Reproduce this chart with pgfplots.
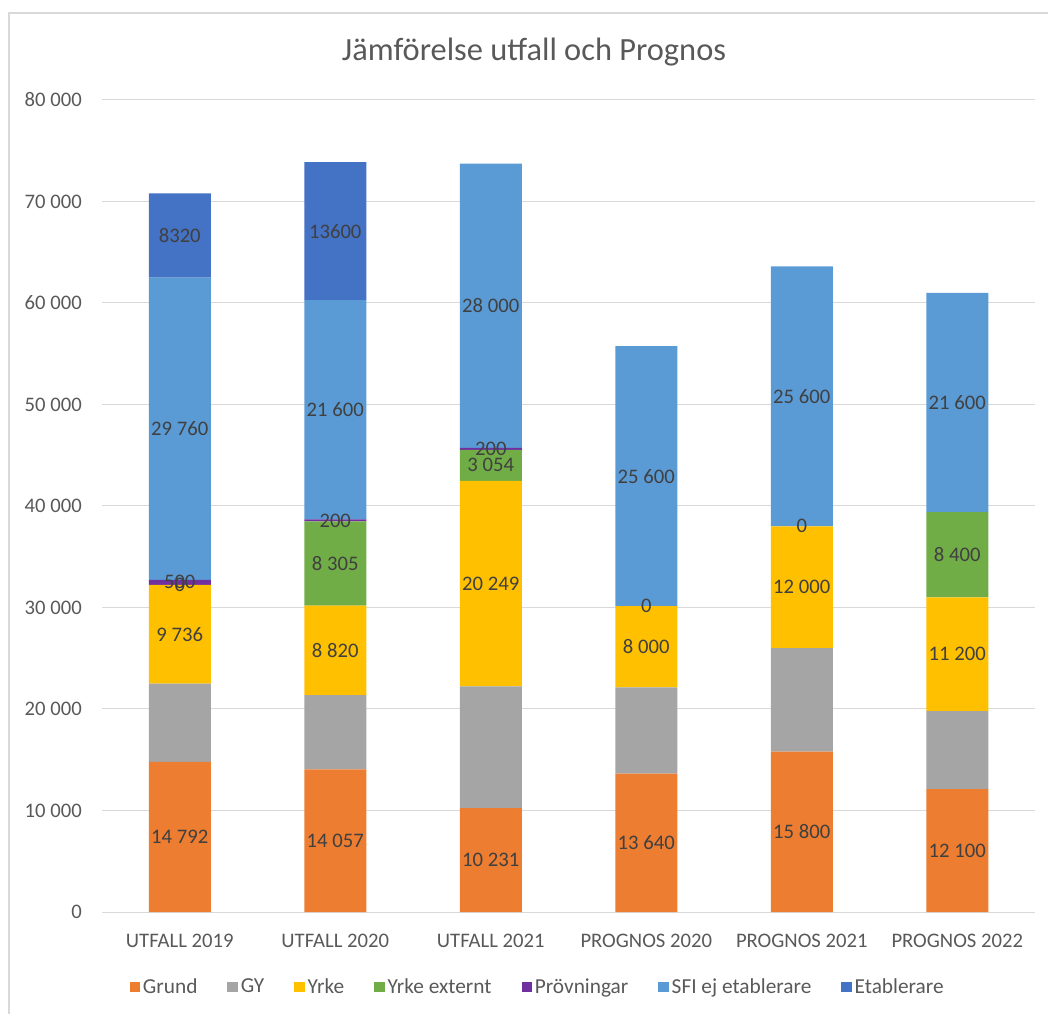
\documentclass[border=0pt]{standalone}
\usepackage{fontspec}
\setmainfont{Carlito}
\usepackage{pgfplots}
\pgfplotsset{compat=1.18}
\definecolor{cGrund}{HTML}{ED7D31}
\definecolor{cGY}{HTML}{A5A5A5}
\definecolor{cYrke}{HTML}{FFC000}
\definecolor{cYE}{HTML}{70AD47}
\definecolor{cProv}{HTML}{7030A0}
\definecolor{cSFI}{HTML}{5B9BD5}
\definecolor{cEtab}{HTML}{4472C4}
\definecolor{gridc}{HTML}{D9D9D9}
\definecolor{tickc}{HTML}{595959}
\definecolor{labc}{HTML}{404040}
\pgfplotsset{
  sq/.style={fill=#1, draw=none,
    legend image code/.code={\fill[##1] (0pt,-4pt) rectangle (8pt,4pt);}},
  lab/.style={draw=none, mark=none, nodes near coords, point meta=explicit symbolic},
}
\begin{document}
\begin{tikzpicture}[x=1pt,y=1pt]
\useasboundingbox (0,0) rectangle (786,759.75);
\draw[color=gridc, line width=1.1pt] (6.75,-20) -- (6.75,750) -- (820,750);
\node[font=\fontsize{24.3}{28}\selectfont, text=tickc] at (400.5,720.75) {Jämförelse utfall och Prognos};
\begin{axis}[
  at={(76.5pt,75.75pt)}, anchor=south west,
  scale only axis, width=699.75pt, height=609pt,
  ybar stacked, bar width=46.5pt,
  xmin=-0.5, xmax=5.5, ymin=0, ymax=80000, enlargelimits=false,
  xtick={0,1,2,3,4,5},
  xticklabels={UTFALL 2019,UTFALL 2020,UTFALL 2021,PROGNOS 2020,PROGNOS 2021,PROGNOS 2022},
  ytick={0,10000,20000,30000,40000,50000,60000,70000,80000},
  scaled y ticks=false,
  ymajorgrids, grid style={draw=gridc, line width=0.75pt},
  axis line style={draw=none}, major tick length=0pt,
  tick label style={font=\fontsize{15.5}{18}\selectfont, text=tickc},
  /pgf/number format/1000 sep={\ },
  /pgf/number format/assume math mode=true,
  yticklabel style={anchor=east, inner sep=0pt, xshift=-15pt},
  xticklabel style={anchor=base, inner sep=0pt, yshift=-26.25pt},
  legend columns=7,
  legend cell align=left,
  legend style={at={(0.4673,-0.0924)}, anchor=center, draw=none, fill=none,
    font=\fontsize{16}{18}\selectfont, text=tickc,
    nodes={inner xsep=2pt, inner ysep=0pt},
    /tikz/every even column/.append style={column sep=20.5pt}},
]
\addplot[sq=cGrund] coordinates {(0,14792) (1,14057) (2,10231) (3,13640) (4,15800) (5,12100)};
\addplot[sq=cGY] coordinates {(0,7700) (1,7300) (2,12000) (3,8500) (4,10200) (5,7700)};
\addplot[sq=cYrke] coordinates {(0,9736) (1,8820) (2,20249) (3,8000) (4,12000) (5,11200)};
\addplot[sq=cYE] coordinates {(0,0) (1,8305) (2,3054) (3,0) (4,0) (5,8400)};
\addplot[sq=cProv] coordinates {(0,500) (1,200) (2,200) (3,0) (4,0) (5,0)};
\addplot[sq=cSFI] coordinates {(0,29760) (1,21600) (2,28000) (3,25600) (4,25600) (5,21600)};
\addplot[sq=cEtab] coordinates {(0,8320) (1,13600) (2,0) (3,0) (4,0) (5,0)};
\legend{Grund,GY,Yrke,Yrke externt,Prövningar,SFI ej etablerare,Etablerare}
\end{axis}
\begin{axis}[
  at={(76.5pt,75.75pt)}, anchor=south west,
  scale only axis, width=699.75pt, height=609pt,
  xmin=-0.5, xmax=5.5, ymin=0, ymax=80000, enlargelimits=false,
  hide axis, clip=false,
  every node near coord/.style={anchor=center, inner sep=0pt,
    font=\fontsize{15.5}{18}\selectfont, text=labc},
]
\addplot[lab] coordinates {(0,7396)[14\ 792] (1,7028)[14\ 057] (2,5116)[10\ 231] (3,6820)[13\ 640] (4,7900)[15\ 800] (5,6050)[12\ 100]};
\addplot[lab] coordinates {(0,27360)[9\ 736] (1,25767)[8\ 820] (2,32355)[20\ 249] (3,26140)[8\ 000] (4,32000)[12\ 000] (5,25400)[11\ 200]};
\addplot[lab] coordinates {(0,32228)[0] (1,34330)[8\ 305] (2,44007)[3\ 054] (3,30140)[0] (4,38000)[0] (5,35200)[8\ 400]};
\addplot[lab] coordinates {(0,32478)[500] (1,38582)[200] (2,45634)[200]};
\addplot[lab] coordinates {(0,47608)[29\ 760] (1,49482)[21\ 600] (2,59734)[28\ 000] (3,42940)[25\ 600] (4,50800)[25\ 600] (5,50200)[21\ 600]};
\addplot[lab] coordinates {(0,66648)[8320] (1,67082)[13600]};
\end{axis}
\end{tikzpicture}
\end{document}
